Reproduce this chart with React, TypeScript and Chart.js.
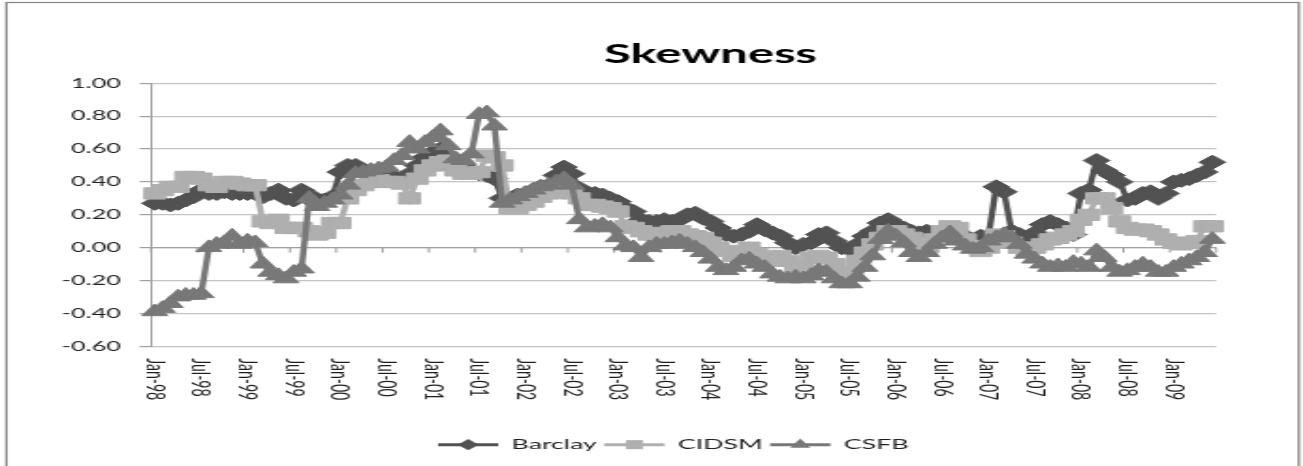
import React, { useEffect, useRef } from "react";
import { Chart, registerables } from "chart.js";

Chart.register(...registerables);

const monthNames = ["Jan", "Feb", "Mar", "Apr", "May", "Jun", "Jul", "Aug", "Sep", "Oct", "Nov", "Dec"];
const yearLabels = ["98", "99", "00", "01", "02", "03", "04", "05", "06", "07", "08", "09"];
const categories = yearLabels.flatMap((y) => monthNames.map((m) => `${m}-${y}`)).slice(0, 138);

const barclay = [
  0.27, 0.27, 0.26, 0.27, 0.29, 0.31, 0.35, 0.33, 0.33, 0.34, 0.33, 0.33,
  0.33, 0.33, 0.31, 0.33, 0.35, 0.30, 0.29, 0.35, 0.32, 0.27, 0.29, 0.31,
  0.46, 0.50, 0.50, 0.47, 0.45, 0.45, 0.44, 0.43, 0.42, 0.45, 0.50, 0.55,
  0.58, 0.60, 0.55, 0.48, 0.46, 0.47, 0.45, 0.44, 0.42, 0.30, 0.30, 0.32,
  0.33, 0.35, 0.37, 0.38, 0.44, 0.49, 0.45, 0.36, 0.33, 0.33, 0.32, 0.30,
  0.28, 0.24, 0.22, 0.17, 0.16, 0.16, 0.17, 0.16, 0.17, 0.20, 0.21, 0.18,
  0.16, 0.12, 0.08, 0.07, 0.08, 0.10, 0.14, 0.11, 0.09, 0.07, 0.03, 0.00,
  0.02, 0.03, 0.08, 0.09, 0.04, 0.00, -0.01, 0.02, 0.07, 0.10, 0.15, 0.17,
  0.14, 0.12, 0.10, 0.09, 0.10, 0.05, 0.05, 0.06, 0.08, 0.07, 0.04, 0.07,
  0.07, 0.37, 0.34, 0.10, 0.08, 0.04, 0.09, 0.14, 0.16, 0.14, 0.12, 0.08,
  0.33, 0.35, 0.53, 0.47, 0.44, 0.40, 0.29, 0.30, 0.33, 0.34, 0.30, 0.33,
  0.40, 0.41, 0.42, 0.44, 0.46, 0.52,
];

const cidsm = [
  0.33, 0.35, 0.37, 0.37, 0.43, 0.43, 0.42, 0.38, 0.37, 0.40, 0.40, 0.39,
  0.38, 0.38, 0.16, 0.15, 0.17, 0.12, 0.12, 0.12, 0.10, 0.08, 0.09, 0.15,
  0.15, 0.30, 0.35, 0.38, 0.40, 0.41, 0.40, 0.40, 0.39, 0.30, 0.42, 0.47,
  0.50, 0.52, 0.53, 0.47, 0.45, 0.45, 0.46, 0.56, 0.55, 0.50, 0.24, 0.24,
  0.26, 0.28, 0.31, 0.33, 0.35, 0.38, 0.33, 0.30, 0.26, 0.26, 0.25, 0.24,
  0.22, 0.13, 0.12, 0.10, 0.08, 0.08, 0.09, 0.10, 0.10, 0.08, 0.07, 0.06,
  0.03, 0.00, -0.02, -0.05, -0.03, 0.00, -0.04, -0.06, -0.08, -0.05, -0.08, -0.12,
  -0.10, -0.06, -0.05, -0.06, -0.10, -0.15, -0.16, -0.08, -0.03, 0.02, 0.06, 0.10,
  0.10, 0.08, 0.06, 0.03, 0.00, 0.05, 0.10, 0.13, 0.12, 0.05, 0.01, -0.02,
  0.00, 0.08, 0.07, 0.03, 0.00, -0.02, 0.00, 0.02, 0.05, 0.06, 0.08, 0.10,
  0.17, 0.20, 0.30, 0.30, 0.24, 0.16, 0.12, 0.11, 0.11, 0.10, 0.08, 0.05,
  0.03, 0.02, 0.03, 0.04, 0.13, 0.13,
];

const csfb = [
  -0.39, -0.37, -0.34, -0.30, -0.29, -0.29, -0.28, 0.00, 0.02, 0.03, 0.07, 0.02,
  0.04, 0.03, -0.10, -0.15, -0.17, -0.19, -0.15, -0.13, 0.30, 0.25, 0.27, 0.29,
  0.32, 0.38, 0.45, 0.46, 0.47, 0.48, 0.49, 0.53, 0.56, 0.64, 0.60, 0.64,
  0.67, 0.71, 0.62, 0.54, 0.53, 0.57, 0.81, 0.82, 0.74, 0.27, 0.29, 0.31,
  0.33, 0.35, 0.37, 0.38, 0.40, 0.42, 0.38, 0.17, 0.12, 0.13, 0.14, 0.12,
  0.06, 0.01, 0.00, -0.06, 0.00, 0.02, 0.02, 0.03, 0.04, 0.02, 0.00, -0.03,
  -0.07, -0.12, -0.14, -0.12, -0.08, -0.07, -0.10, -0.12, -0.16, -0.18, -0.19, -0.18,
  -0.19, -0.17, -0.14, -0.15, -0.19, -0.22, -0.22, -0.18, -0.12, -0.05, 0.05, 0.10,
  0.07, 0.03, -0.03, -0.06, -0.03, 0.02, 0.06, 0.09, 0.04, 0.01, -0.01, 0.00,
  0.04, 0.06, 0.08, 0.06, 0.02, -0.04, -0.07, -0.10, -0.12, -0.11, -0.12, -0.09,
  -0.10, -0.12, -0.02, -0.06, -0.12, -0.15, -0.14, -0.12, -0.10, -0.12, -0.15, -0.15,
  -0.12, -0.10, -0.08, -0.06, -0.03, 0.05,
];

const titleText = "Skewness";
const seriesNames = ["Barclay", "CIDSM", "CSFB"];
const seriesColors = ["#525252", "#afafaf", "#787878"];
const seriesMarkers = ["rectRot", "rect", "triangle"];
const markerRadius = [7, 8, 7.8];
const yMin = -0.6;
const yMax = 1.0;
const yStep = 0.2;
const labelEvery = 6;

const W = 693;
const H = 466;
const SX = 1303 / W;
const FONT = "Lato, 'Open Sans', sans-serif";
const TEXT = "#1e1e1e";

function drawMarker(ctx: CanvasRenderingContext2D, style: string, x: number, y: number, r: number) {
  ctx.beginPath();
  if (style === "rectRot") {
    ctx.moveTo(x, y - r);
    ctx.lineTo(x + r, y);
    ctx.lineTo(x, y + r);
    ctx.lineTo(x - r, y);
  } else if (style === "rect") {
    const s = r * Math.SQRT1_2;
    ctx.rect(x - s, y - s, 2 * s, 2 * s);
  } else {
    ctx.moveTo(x, y - r);
    ctx.lineTo(x + r * 0.866, y + r * 0.5);
    ctx.lineTo(x - r * 0.866, y + r * 0.5);
  }
  ctx.closePath();
  ctx.fill();
}

const decorPlugin = {
  id: "decor",
  beforeDraw(chart: any) {
    const ctx = chart.ctx as CanvasRenderingContext2D;
    ctx.save();
    ctx.fillStyle = "#ffffff";
    ctx.fillRect(0, 0, chart.width, chart.height);
    ctx.strokeStyle = "#8a8a8a";
    ctx.lineWidth = 1.3;
    ctx.strokeRect(3.4, 2.5, chart.width - 5.6, chart.height + 10);
    ctx.restore();
  },
  afterLayout(chart: any) {
    const t = chart.titleBlock;
    if (t) {
      t.left += 14.3;
      t.right += 14.3;
    }
    const l = chart.legend;
    if (l) {
      l.left -= 5.5;
      l.right -= 5.5;
    }
  },
  beforeDatasetsDraw(chart: any) {
    const ctx = chart.ctx as CanvasRenderingContext2D;
    const area = chart.chartArea;
    const xs = chart.scales.x;
    const ys = chart.scales.y;
    const y0 = ys.getPixelForValue(0);
    const step = xs.getPixelForValue(1) - xs.getPixelForValue(0);
    const start = xs.getPixelForValue(0) - step / 2;
    ctx.save();
    ctx.strokeStyle = "#9c9c9c";
    ctx.lineWidth = 1;
    ctx.beginPath();
    ctx.moveTo(area.left, y0);
    ctx.lineTo(area.right, y0);
    for (let i = 0; i <= categories.length; i += labelEvery) {
      const px = start + i * step;
      ctx.moveTo(px, y0);
      ctx.lineTo(px, y0 + 5);
    }
    ctx.stroke();
    ctx.restore();
  },
  afterDraw(chart: any) {
    const ctx = chart.ctx as CanvasRenderingContext2D;
    const area = chart.chartArea;
    const xs = chart.scales.x;
    ctx.save();
    ctx.fillStyle = TEXT;
    ctx.font = `14px ${FONT}`;
    ctx.textAlign = "left";
    ctx.textBaseline = "middle";
    for (let i = 0; i < categories.length; i += labelEvery) {
      const px = xs.getPixelForValue(i);
      ctx.save();
      ctx.translate(px, area.bottom + 12);
      ctx.rotate(Math.PI / 2);
      ctx.fillText(categories[i], 0, 0);
      ctx.restore();
    }
    const legend = chart.legend;
    if (legend && legend.legendHitBoxes) {
      const boxW = legend.options.labels.boxWidth;
      const fs = legend.options.labels.font.size;
      legend.legendHitBoxes.forEach((hb: any, k: number) => {
        const item = legend.legendItems[k];
        const di = item.datasetIndex;
        ctx.fillStyle = seriesColors[di];
        drawMarker(ctx, seriesMarkers[di], hb.left + boxW / 2, hb.top + fs / 2, markerRadius[di] * 0.8);
      });
    }
    ctx.restore();
  },
};

const seriesData = [barclay, cidsm, csfb];

export default function App() {
  const ref = useRef<HTMLCanvasElement | null>(null);
  useEffect(() => {
    if (!ref.current) return;
    const chart = new Chart(ref.current, {
      type: "line",
      data: {
        labels: categories,
        datasets: seriesNames.map((name, i) => ({
          label: name,
          data: seriesData[i],
          borderColor: seriesColors[i],
          backgroundColor: seriesColors[i],
          borderWidth: 3.4,
          pointStyle: seriesMarkers[i] as any,
          pointRadius: markerRadius[i],
          pointBorderWidth: 1,
          pointBackgroundColor: seriesColors[i],
          pointBorderColor: seriesColors[i],
          tension: 0,
          fill: false,
          order: 3 - i,
        })),
      },
      options: {
        responsive: true,
        maintainAspectRatio: false,
        animation: false,
        events: [],
        layout: { padding: { left: 0, right: 46.2, top: 0, bottom: 4.25 } },
        plugins: {
          title: {
            display: true,
            text: titleText,
            fullSize: false,
            color: "#000000",
            font: { family: FONT, size: 26, weight: "bold", lineHeight: 1.2 },
            padding: { top: 38.9, bottom: 13.2 },
          },
          legend: {
            display: true,
            position: "bottom",
            fullSize: false,
            labels: {
              boxWidth: 32,
              boxHeight: 3,
              padding: 4,
              color: TEXT,
              font: { family: FONT, size: 14.2 },
              generateLabels: (c: any) =>
                (Chart.defaults.plugins.legend.labels.generateLabels as any)(c).map((it: any) => ({
                  ...it,
                  fillStyle: seriesColors[it.datasetIndex],
                  strokeStyle: seriesColors[it.datasetIndex],
                  lineWidth: 0,
                })),
              sort: (a: any, b: any) => a.datasetIndex - b.datasetIndex,
            },
          },
          tooltip: { enabled: false },
        },
        scales: {
          x: {
            type: "category",
            offset: true,
            grid: { display: false },
            border: { display: false },
            ticks: { display: false },
            afterFit: (s: any) => {
              s.height = 87.25;
            },
          },
          y: {
            min: yMin,
            max: yMax,
            ticks: {
              stepSize: yStep,
              padding: 10,
              color: TEXT,
              font: { family: FONT, size: 13.4 },
              callback: (v: any) => {
                const n = Number(v);
                return (Math.abs(n) < 1e-9 ? 0 : n).toFixed(2);
              },
            },
            grid: { color: "#c3c3c3", lineWidth: 1.2, tickLength: 6, tickColor: "#a0a0a0" },
            border: { color: "#a0a0a0", width: 1 },
            afterFit: (s: any) => {
              s.width = 80.3;
            },
          },
        },
      },
      plugins: [decorPlugin],
    } as any);
    return () => chart.destroy();
  }, []);

  return (
    <div
      style={{
        position: "fixed",
        left: 0,
        top: 0,
        width: 1303,
        height: 466,
        overflow: "hidden",
        background: "#ffffff",
      }}
    >
      <div
        style={{
          position: "absolute",
          left: 0,
          top: 0,
          width: W,
          height: H,
          transform: `scaleX(${SX})`,
          transformOrigin: "0 0",
        }}
      >
        <canvas ref={ref} />
      </div>
    </div>
  );
}
